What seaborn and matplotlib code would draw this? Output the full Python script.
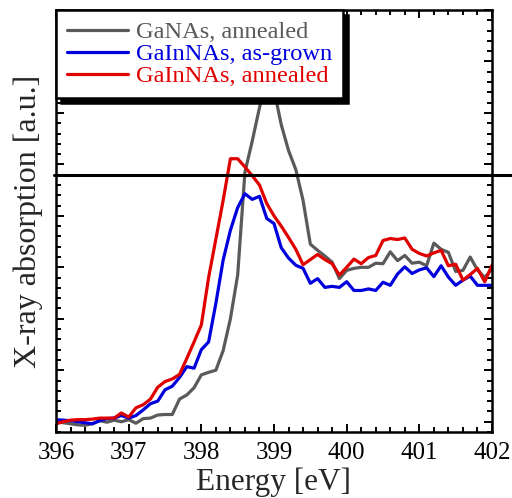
import numpy as np
import pandas as pd
import matplotlib
matplotlib.use("Agg")
import matplotlib.pyplot as plt
from matplotlib.ticker import MultipleLocator
from matplotlib.lines import Line2D
import seaborn as sns

energy = [396.0, 396.1, 396.2, 396.3, 396.4, 396.5, 396.6, 396.7, 396.8, 396.9,
          397.0, 397.1, 397.2, 397.3, 397.4, 397.5, 397.6, 397.7, 397.8, 397.9,
          398.0, 398.1, 398.2, 398.3, 398.4, 398.5, 398.6, 398.7, 398.8, 398.9,
          399.0, 399.1, 399.2, 399.3, 399.4, 399.5, 399.6, 399.7, 399.8, 399.9,
          400.0, 400.1, 400.2, 400.3, 400.4, 400.5, 400.6, 400.7, 400.8, 400.9,
          401.0, 401.1, 401.2, 401.3, 401.4, 401.5, 401.6, 401.7, 401.8, 401.9,
          402.0]

ganas_annealed = [0.0, -0.02, -0.04, -0.06, -0.07, -0.04, 0.02, -0.01, 0.03, 0.0,
                  0.04, -0.03, 0.06, 0.07, 0.13, 0.14, 0.14, 0.44, 0.52, 0.66,
                  0.91, 0.96, 1.0, 1.38, 2.0, 2.85, 4.85, 5.45, 6.10, 6.70,
                  6.45, 5.77, 5.27, 4.90, 4.30, 3.45, 3.33, 3.22, 3.10, 2.78,
                  2.94, 2.98, 3.0, 3.0, 3.08, 3.07, 3.30, 3.13, 3.23, 3.08,
                  3.10, 3.03, 3.47, 3.35, 3.29, 2.92, 2.94, 3.20, 2.95, 2.80,
                  2.97]

gainnas_asgrown = [0.04, 0.03, 0.02, 0.0, -0.02, -0.04, 0.02, 0.06, 0.07, 0.12,
                   0.07, 0.12, 0.23, 0.35, 0.40, 0.62, 0.69, 0.86, 1.07, 1.04,
                   1.40, 1.55, 2.30, 3.14, 3.72, 4.16, 4.43, 4.32, 4.38, 3.95,
                   3.85, 3.38, 3.18, 3.04, 2.98, 2.69, 2.78, 2.61, 2.63, 2.61,
                   2.72, 2.55, 2.55, 2.58, 2.55, 2.71, 2.65, 2.87, 3.01, 2.88,
                   2.95, 2.99, 2.82, 3.03, 2.81, 2.65, 2.75, 2.83, 2.65, 2.65,
                   2.65]

gainnas_annealed = [-0.04, 0.0, 0.03, 0.04, 0.04, 0.05, 0.07, 0.07, 0.07, 0.17,
                    0.09, 0.27, 0.33, 0.44, 0.67, 0.78, 0.83, 0.92, 1.23, 1.55,
                    1.88, 2.80, 3.55, 4.30, 5.11, 5.11, 4.95, 4.78, 4.60, 4.24,
                    4.0, 3.8, 3.58, 3.35, 3.05, 3.15, 3.25, 3.15, 3.07, 2.85,
                    3.0, 3.16, 3.07, 3.19, 3.23, 3.52, 3.56, 3.54, 3.57, 3.35,
                    3.27, 3.22, 3.28, 3.33, 3.03, 3.06, 2.75, 2.86, 2.98, 2.72,
                    3.04]

labels = ["GaNAs, annealed", "GaInNAs, as-grown", "GaInNAs, annealed"]
colors = ["#5a5a5a", "#0000dd", "#e00000"]
hline_level = 4.8

df = pd.concat([
    pd.DataFrame({"Energy": energy, "Absorption": ganas_annealed, "Sample": labels[0]}),
    pd.DataFrame({"Energy": energy, "Absorption": gainnas_asgrown, "Sample": labels[1]}),
    pd.DataFrame({"Energy": energy, "Absorption": gainnas_annealed, "Sample": labels[2]}),
], ignore_index=True)

sns.set_style("ticks")
plt.rcParams["font.family"] = ["Liberation Serif", "DejaVu Serif"]

fig = plt.figure(figsize=(5.12, 4.98), dpi=100)
ax = fig.add_axes([56/512, 1 - 432/498, 436/512, 422/498])

sns.lineplot(data=df, x="Energy", y="Absorption", hue="Sample",
             palette=dict(zip(labels, colors)), hue_order=labels,
             linewidth=2.3, ax=ax, legend=False, sort=False, estimator=None)

ax.axhline(hline_level, xmin=-0.005, xmax=1.1, color="black", lw=2.2,
           clip_on=False, zorder=3)

ax.set_xlim(396, 402)
ax.set_ylim(-0.2, 8.0)
ax.xaxis.set_major_locator(MultipleLocator(1))
ax.xaxis.set_minor_locator(MultipleLocator(0.2))
ax.yaxis.set_major_locator(MultipleLocator(1))
ax.yaxis.set_minor_locator(MultipleLocator(0.2))
ax.set_yticklabels([])
ax.tick_params(which="both", direction="in", top=True, right=True,
               width=1.4, colors="black")
ax.tick_params(which="major", length=6)
ax.tick_params(which="minor", length=3.5)
ax.tick_params(axis="x", labelsize=18, pad=7)
for s in ax.spines.values():
    s.set_linewidth(1.8)
    s.set_color("black")

ax.set_xlabel("Energy [eV]", fontsize=22.5, labelpad=3)
ax.set_ylabel("X-ray absorption [a.u.]", fontsize=23, labelpad=6)

handles = [Line2D([], [], color=c, lw=2.3) for c in colors]
leg = ax.legend(handles, labels, loc="upper left", bbox_to_anchor=(0, 1),
                borderaxespad=0, fontsize=17.6, labelcolor=colors,
                handlelength=2.5, handletextpad=0.33, labelspacing=0.0,
                borderpad=0.45, fancybox=False, framealpha=1,
                edgecolor="black",
                shadow={"ox": 3.5, "oy": -3.5, "color": "black", "alpha": 1})
leg.get_frame().set_linewidth(1.8)
leg.set_zorder(6)

fig.savefig("out.png", dpi=100)
